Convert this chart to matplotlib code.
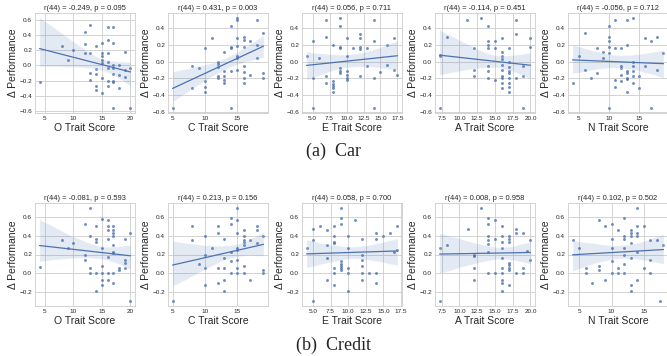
import numpy as np
import matplotlib
matplotlib.use("Agg")
import matplotlib.pyplot as plt
import seaborn as sns
from matplotlib.ticker import MultipleLocator

# ---- data (n = 46 per panel) ----
car_O_x = [4.1, 8, 9, 10, 12, 12, 12, 13, 13, 13, 13, 14, 14, 14, 14, 14, 15, 15, 15, 15, 15, 15, 15,
           16, 16, 16, 16, 16, 16, 17, 17, 17, 17, 17, 17, 17, 17, 18, 18, 19, 19, 19, 20, 20, 16, 18]
car_O_y = [-0.215, 0.26, 0.07, 0.2, 0.44, 0.29, 0.17, 0.54, 0.17, -0.1, -0.19, 0.26, -0.05, -0.12, -0.27, -0.32,
           0.17, 0.13, 0.07, 0.03, -0.17, -0.37, 0.3, 0.51, 0.34, 0.17, 0.05, -0.04, -0.27, 0.51, 0.3, 0.0, -0.12,
           -0.2, -0.22, -0.57, -0.04, -0.13, -0.3, 0.18, -0.06, -0.16, -0.04, -0.57, -0.2, 0.0]

car_C_x = [5, 8, 8, 9, 10, 10, 10, 10, 11, 12, 12, 12, 12, 12, 13, 13, 13, 13, 13, 14, 14, 14, 14, 14,
           15, 15, 15, 15, 15, 15, 15, 16, 16, 16, 16, 16, 16, 16, 17, 17, 18, 18, 18, 19, 19, 19]
car_C_y = [-0.56, -0.05, -0.32, -0.07, 0.16, -0.23, -0.3, -0.36, 0.29, 0.0, -0.03, -0.06, -0.17, -0.2, 0.12,
           -0.11, -0.17, -0.22, -0.26, 0.43, 0.18, 0.16, -0.11, -0.56, 0.53, 0.5, 0.28, 0.19, 0.07, 0.05, -0.1,
           0.3, 0.26, 0.18, -0.05, -0.12, -0.2, -0.26, 0.25, -0.16, 0.5, 0.2, 0.05, 0.34, -0.13, -0.19]

car_E_x = [4.1, 5, 5, 5, 6, 7, 7, 7, 7, 8, 8, 8, 8, 8, 8, 9, 9, 9, 9, 9, 9, 9, 10, 10, 10, 10, 10, 10,
           11, 12, 12, 12, 12, 12, 13, 13, 14, 14, 14, 14, 15, 16, 17, 17, 17.5, 16]
car_E_y = [0.065, 0.25, -0.2, -0.56, 0.045, 0.5, 0.3, -0.17, -0.26, 0.2, -0.23, -0.27, -0.29, -0.32, -0.36,
           0.53, 0.43, 0.18, 0.16, -0.07, -0.11, -0.13, 0.29, 0.065, -0.11, -0.16, -0.19, -0.22, 0.16, 0.33,
           0.29, 0.18, 0.15, -0.17, 0.16, -0.05, 0.5, 0.25, -0.2, -0.56, -0.12, -0.04, 0.28, -0.1, -0.16, 0.2]

car_A_x = [7.2, 7.3, 7.2, 8.2, 11, 12, 12, 12, 13, 14, 14, 14, 14, 14, 14, 15, 15, 15, 16, 16, 16, 16,
           16, 16, 16, 16, 16, 17, 17, 17, 17, 17, 17, 17, 17, 18, 18, 18, 19, 19, 20, 20, 19, 16, 17, 14]
car_A_y = [0.065, 0.085, -0.56, 0.3, 0.5, 0.16, -0.1, -0.17, 0.53, 0.43, 0.25, 0.2, 0.16, -0.11, -0.19, 0.25,
           0.16, -0.22, 0.29, 0.12, 0.03, -0.04, -0.1, -0.2, -0.26, -0.32, -0.17, 0.16, -0.06, -0.11, -0.13,
           -0.19, -0.25, -0.3, -0.36, 0.5, 0.33, -0.2, -0.17, -0.56, 0.28, 0.18, -0.05, 0.07, 0.0, -0.05]

car_N_x = [4, 5, 6, 6, 7, 8, 8, 9, 9, 10, 10, 10, 10, 10, 10, 11, 11, 11, 11, 12, 12, 12, 12, 12,
           13, 13, 13, 13, 13, 13, 13, 14, 14, 14, 14, 14, 14, 15, 15, 16, 16, 17, 17, 18, 19, 18]
car_N_y = [-0.26, 0.065, 0.34, -0.1, -0.2, 0.17, -0.13, 0.12, 0.045, 0.43, 0.3, 0.25, 0.18, 0.1, -0.56, 0.5,
           0.16, -0.22, -0.3, 0.16, -0.05, -0.07, -0.16, -0.23, 0.5, 0.2, -0.11, -0.13, -0.19, -0.21, -0.36,
           0.53, 0.0, -0.05, -0.11, -0.17, -0.26, -0.17, -0.32, -0.05, 0.28, 0.25, -0.56, 0.3, 0.1, -0.1]

cr_O_x = [4.1, 8, 9, 10, 12, 12, 12, 13, 13, 13, 13, 14, 14, 14, 14, 14, 15, 15, 15, 15, 15, 15,
          16, 16, 16, 16, 16, 16, 16, 17, 17, 17, 17, 17, 17, 17, 17, 17, 18, 18, 19, 19, 19, 19, 20, 20]
cr_O_y = [0.065, 0.35, 0.265, 0.32, 0.53, 0.2, 0.14, 0.7, 0.4, 0.06, 0.0, 0.5, 0.37, 0.33, 0.0, -0.19,
          0.58, 0.27, 0.08, 0.0, -0.07, -0.13, 0.57, 0.5, 0.46, 0.37, 0.17, 0.0, -0.07, 0.5, 0.46, 0.43, 0.4,
          0.3, 0.23, 0.22, 0.0, -0.1, 0.06, 0.03, 0.37, 0.14, 0.11, 0.06, 0.43, -0.3]

cr_C_x = [8, 8, 9, 10, 10, 10, 10, 11, 12, 12, 12, 12, 13, 13, 13, 13, 13, 14, 14, 14, 14, 14,
          15, 15, 15, 15, 15, 15, 15, 15, 16, 16, 16, 16, 16, 16, 16, 17, 17, 18, 18, 18, 19, 19, 19, 5]
cr_C_y = [0.5, 0.36, 0.1, 0.4, 0.2, 0.06, -0.13, 0.265, 0.5, 0.43, 0.06, -0.1, 0.37, 0.165, 0.06, -0.07,
          -0.19, 0.59, 0.53, 0.23, 0.13, 0.0, 0.7, 0.57, 0.43, 0.27, 0.25, 0.14, 0.06, 0.0, 0.46, 0.4, 0.36,
          0.33, 0.3, 0.08, 0.0, 0.35, -0.07, 0.5, 0.46, 0.32, 0.4, 0.03, 0.0, -0.3]

cr_E_x = [4.1, 5, 5, 6, 7, 7, 7, 7, 8, 8, 8, 8, 8, 8, 8, 9, 9, 9, 9, 9, 9, 9, 9, 10, 10, 10, 10, 10,
          11, 12, 12, 12, 12, 12, 12, 13, 14, 14, 14, 14, 15, 16, 17, 17, 5, 16.5]
cr_E_y = [0.265, 0.47, 0.35, 0.5, 0.46, 0.3, 0.165, -0.07, 0.5, 0.4, 0.33, 0.32, 0.06, 0.0, -0.13, 0.7, 0.59,
          0.53, 0.13, 0.1, 0.08, 0.06, 0.03, 0.4, 0.265, 0.06, 0.0, -0.19, 0.57, 0.37, 0.2, 0.14, 0.08, 0.0,
          -0.07, 0.0, 0.43, 0.37, 0.0, -0.1, 0.4, 0.43, 0.5, 0.25, -0.3, 0.23]

cr_A_x = [7.2, 8.2, 11.2, 12, 12, 12, 12, 13, 14, 14, 14, 14, 14, 14, 14, 15, 15, 15, 16, 16, 16, 16,
          16, 16, 16, 16, 16, 17, 17, 17, 17, 17, 17, 17, 17, 18, 18, 18, 19, 19, 19, 20, 7.2, 20, 16, 19.5]
cr_A_y = [0.265, 0.3, 0.47, 0.2, 0.185, 0.06, -0.07, 0.7, 0.59, 0.53, 0.4, 0.35, 0.31, 0.23, 0.0, 0.57, 0.37,
          0.0, 0.5, 0.4, 0.265, 0.165, 0.06, 0.0, -0.07, -0.1, -0.19, 0.4, 0.37, 0.33, 0.11, 0.09, 0.06, 0.03,
          -0.13, 0.47, 0.43, 0.0, 0.43, 0.06, 0.0, 0.14, -0.3, 0.36, 0.33, 0.24]

cr_N_x = [4, 5, 6, 6, 7, 8, 8, 8, 9, 9, 10, 10, 10, 10, 10, 11, 11, 11, 12, 12, 12, 12, 12, 12,
          13, 13, 13, 13, 13, 13, 13, 14, 14, 14, 14, 14, 15, 15, 16, 16, 17, 18, 17.5, 14, 16, 12]
cr_N_y = [0.35, 0.265, 0.06, 0.0, -0.1, 0.57, 0.03, 0.08, 0.5, -0.07, 0.53, 0.37, 0.265, 0.13, 0.0, 0.46,
          0.06, 0.0, 0.59, 0.4, 0.37, 0.2, 0.1, 0.0, 0.46, 0.43, 0.4, 0.32, 0.165, -0.13, -0.19, 0.7, 0.5,
          0.43, 0.23, -0.07, 0.5, 0.06, 0.36, 0.14, 0.35, 0.3, -0.3, 0.4, 0.0, 0.27]

traits = ["O", "C", "E", "A", "N"]
xsteps = [5, 5, 2.5, 2.5, 5]
car_x = [car_O_x, car_C_x, car_E_x, car_A_x, car_N_x]
car_y = [car_O_y, car_C_y, car_E_y, car_A_y, car_N_y]
car_titles = ["r(44) = -0.249, p = 0.095", "r(44) = 0.431, p = 0.003", "r(44) = 0.056, p = 0.711",
              "r(44) = -0.114, p = 0.451", "r(44) = -0.056, p = 0.712"]
cr_x = [cr_O_x, cr_C_x, cr_E_x, cr_A_x, cr_N_x]
cr_y = [cr_O_y, cr_C_y, cr_E_y, cr_A_y, cr_N_y]
cr_titles = ["r(44) = -0.081, p = 0.593", "r(44) = 0.213, p = 0.156", "r(44) = 0.058, p = 0.700",
             "r(44) = 0.008, p = 0.958", "r(44) = 0.102, p = 0.502"]

sns.set_theme(style="whitegrid")
plt.rcParams["font.family"] = ["Liberation Sans", "DejaVu Sans"]
plt.rcParams["xtick.labelsize"] = 4.6
plt.rcParams["ytick.labelsize"] = 4.6
plt.rcParams["xtick.major.size"] = 0
plt.rcParams["ytick.major.size"] = 0
plt.rcParams["grid.linewidth"] = 0.6
plt.rcParams["axes.linewidth"] = 0.6
plt.rcParams["xtick.major.pad"] = 2.5
plt.rcParams["ytick.major.pad"] = 2

fig = plt.figure(figsize=(6.67, 3.56), dpi=100)

lefts = [35, 168, 302, 435, 568]
W, H = 667.0, 356.0


def draw_row(xs, ys, titles, top_px, h_px, caption, cap_y):
    for i in range(5):
        ax = fig.add_axes([lefts[i] / W, 1 - (top_px + h_px) / H, 100 / W, h_px / H])
        sns.regplot(x=np.array(xs[i]), y=np.array(ys[i]), ax=ax, seed=1,
                    scatter_kws={"s": 4.5, "linewidths": 0},
                    line_kws={"lw": 0.9})
        ax.set_title(titles[i], fontsize=5.4, pad=2)
        ax.set_xlabel(traits[i] + " Trait Score", fontsize=7.5, labelpad=1)
        ax.set_ylabel("Δ Performance", fontsize=7.5)
        ax.yaxis.set_label_coords(-0.17, 0.5)
        ax.xaxis.set_major_locator(MultipleLocator(xsteps[i]))
        ax.yaxis.set_major_locator(MultipleLocator(0.2))
    fig.text(0.5, 1 - cap_y / H, caption, ha="center", va="center",
             fontsize=13, family=["Liberation Serif", "DejaVu Serif"])


draw_row(car_x, car_y, car_titles, 13, 100, "(a)  Car", 151)
draw_row(cr_x, cr_y, cr_titles, 203, 103, "(b)  Credit", 345)

fig.savefig("out.png", dpi=100)
